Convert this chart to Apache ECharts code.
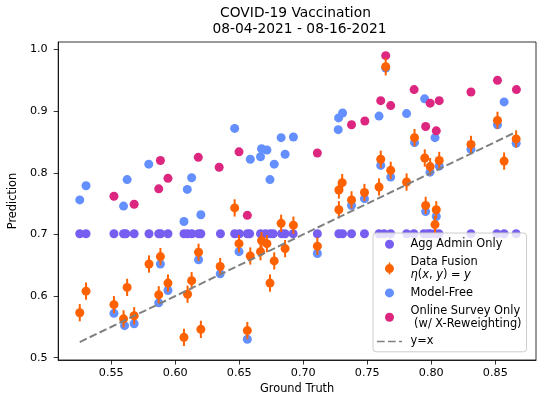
<!DOCTYPE html>
<html><head><meta charset="utf-8">
<script src="https://cdn.jsdelivr.net/npm/echarts@6/dist/echarts.min.js"></script>
<style>html,body{margin:0;padding:0;background:#fff}#c{width:537px;height:401px}</style>
</head><body><div id="c"></div>
<script>
// ---- data ----
const aggX = [0.5254,0.5303,0.5521,0.5596,0.5614,0.5679,0.5795,0.5871,0.5886,0.5943,0.6068,0.6096,0.6130,0.6182,0.6200,0.6353,0.6464,0.6501,0.6563,0.6581,0.6666,0.6705,0.6742,0.6765,0.6831,0.6858,0.6921,0.7110,0.7278,0.7307,0.7377,0.7478,0.7592,0.7631,0.7683,0.7807,0.7864,0.7942,0.7974,0.7994,0.8029,0.8060,0.8310,0.8512,0.8569,0.8663];
const aggY = [0.701,0.701,0.701,0.701,0.701,0.701,0.701,0.701,0.701,0.701,0.701,0.701,0.701,0.701,0.701,0.701,0.701,0.701,0.701,0.701,0.701,0.701,0.701,0.701,0.701,0.701,0.701,0.701,0.701,0.701,0.701,0.701,0.701,0.701,0.701,0.701,0.701,0.701,0.701,0.701,0.701,0.701,0.701,0.701,0.701,0.701];

const fusionX = [0.5254,0.5303,0.5521,0.5596,0.5624,0.5679,0.5795,0.5884,0.5871,0.5943,0.6068,0.6096,0.6128,0.6182,0.6200,0.6351,0.6464,0.6498,0.6586,0.6674,0.6716,0.6666,0.6827,0.6923,0.6858,0.6773,0.6740,0.7110,0.6563,0.7278,0.7278,0.7304,0.7377,0.7478,0.7592,0.7605,0.7644,0.7683,0.7807,0.7869,0.7949,0.7991,0.8062,0.7956,0.8039,0.8029,0.8310,0.8517,0.8569,0.8663];
const fusionY = [0.573,0.608,0.586,0.563,0.614,0.568,0.652,0.664,0.602,0.621,0.533,0.603,0.625,0.671,0.546,0.648,0.743,0.685,0.665,0.690,0.685,0.672,0.718,0.715,0.677,0.657,0.621,0.681,0.544,0.740,0.772,0.784,0.756,0.768,0.777,0.822,0.972,0.804,0.785,0.857,0.824,0.810,0.820,0.747,0.740,0.716,0.846,0.885,0.819,0.855];
const fusionErr = [0.014,0.014,0.014,0.014,0.014,0.014,0.014,0.014,0.014,0.014,0.014,0.014,0.014,0.014,0.014,0.014,0.014,0.014,0.014,0.014,0.014,0.014,0.014,0.014,0.014,0.014,0.014,0.014,0.014,0.014,0.014,0.014,0.014,0.014,0.014,0.014,0.014,0.014,0.014,0.014,0.014,0.014,0.014,0.014,0.014,0.014,0.014,0.014,0.014,0.014];

const modelFreeX = [0.5303,0.5254,0.5793,0.5624,0.6128,0.6094,0.5596,0.6068,0.6200,0.5521,0.5604,0.5679,0.5884,0.5871,0.5943,0.6182,0.6351,0.6464,0.6586,0.6674,0.6716,0.6666,0.6827,0.6923,0.6858,0.6773,0.6740,0.6498,0.7110,0.6563,0.7307,0.7276,0.7273,0.7377,0.7478,0.7592,0.7644,0.7605,0.7683,0.7807,0.7948,0.8029,0.7869,0.7990,0.8062,0.7956,0.8039,0.8310,0.8517,0.8569,0.8663];
const modelFreeY = [0.779,0.756,0.814,0.789,0.792,0.773,0.746,0.721,0.732,0.572,0.552,0.555,0.652,0.589,0.609,0.659,0.636,0.872,0.822,0.839,0.837,0.826,0.857,0.858,0.830,0.814,0.789,0.672,0.669,0.530,0.897,0.889,0.870,0.747,0.758,0.892,0.970,0.812,0.793,0.896,0.920,0.857,0.849,0.801,0.811,0.737,0.729,0.838,0.878,0.915,0.848];

const surveyX = [0.5884,0.6180,0.6343,0.5943,0.5871,0.5521,0.5679,0.6498,0.6563,0.7110,0.7377,0.7481,0.7644,0.7605,0.7683,0.7866,0.7991,0.8062,0.7956,0.8039,0.8310,0.8517,0.8665];
const surveyY = [0.820,0.825,0.809,0.791,0.774,0.762,0.749,0.834,0.731,0.832,0.878,0.884,0.990,0.917,0.909,0.935,0.913,0.917,0.875,0.868,0.931,0.950,0.935];

const xTicks = [0.55,0.60,0.65,0.70,0.75,0.80,0.85];
const xTickLabels = ['0.55','0.60','0.65','0.70','0.75','0.80','0.85'];
const yTicks = [0.5,0.6,0.7,0.8,0.9,1.0];
const yTickLabels = ['0.5','0.6','0.7','0.8','0.9','1.0'];

const seriesNames = ['Agg Admin Only','Data Fusion','Model-Free','Online Survey Only','y=x'];
const legendLabels = {
  'Agg Admin Only': 'Agg Admin Only',
  'Data Fusion': 'Data Fusion\n{it|η}({it|x}, {it|y}) = {it|y}',
  'Model-Free': 'Model-Free',
  'Online Survey Only': 'Online Survey Only\n (w/ X-Reweighting)',
  'y=x': 'y=x'
};
const titleLines = ['COVID-19 Vaccination', '08-04-2021 - 08-16-2021'];

// ---- build ----
const FONT = 'DejaVu Sans';
const C_AGG = '#785EF0', C_DF = '#FE6100', C_MF = '#648FFF', C_OS = '#DC267F', C_LINE = '#808080';
const zip = (xs, ys) => xs.map((x, i) => [x, ys[i]]);
const lo = Math.min(...aggX), hi = Math.max(...aggX);

const BOX = 'M0,0M32,16';
const ICON_CIRCLE = 'path://' + BOX + 'M11.5,8a4.5,4.5 0 1 1 9,0a4.5,4.5 0 1 1 -9,0z';
const ICON_ERR = 'path://' + BOX + 'M11.5,8a4.5,4.5 0 1 1 9,0a4.5,4.5 0 1 1 -9,0z M15.25,2h1.5v2.2h-1.5z M15.25,11.8h1.5v2.2h-1.5z';
const ICON_DASH = 'path://' + BOX + 'M3.5,7.2h7.7v1.6h-7.7z M14.5,7.2h7.7v1.6h-7.7z M25.5,7.2h3v1.6h-3z';

const chart = echarts.init(document.getElementById('c'), null, {renderer: 'canvas'});
chart.setOption({
  animation: false,
  backgroundColor: '#fff',
  textStyle: {fontFamily: FONT},
  graphic: [
    {type: 'text', x: 295.5, y: 13.3, silent: true,
     style: {text: titleLines[0], fill: '#000', fontFamily: FONT, fontSize: 13.8, align: 'center', verticalAlign: 'middle'}},
    {type: 'text', x: 299.5, y: 29.3, silent: true,
     style: {text: titleLines[1], fill: '#000', fontFamily: FONT, fontSize: 13.8, align: 'center', verticalAlign: 'middle'}}
  ],
  grid: {left: 56, right: 1, top: 42, bottom: 41, show: true, borderColor: '#000', borderWidth: 0.8},
  xAxis: {
    type: 'value', min: 0.50855, max: 0.8818,
    name: 'Ground Truth', nameLocation: 'middle', nameGap: 22.5,
    nameTextStyle: {fontSize: 11.4, color: '#000', fontFamily: FONT},
    axisLine: {show: true, lineStyle: {color: '#000', width: 0.8}},
    axisTick: {show: true, length: 4.5, lineStyle: {color: '#000', width: 0.8}, customValues: xTicks},
    axisLabel: {customValues: xTicks, fontSize: 11.2, color: '#000', margin: 8, fontFamily: FONT,
      formatter: v => xTickLabels[xTicks.findIndex(t => Math.abs(t - v) < 1e-9)]},
    splitLine: {show: false}
  },
  yAxis: {
    type: 'value', min: 0.49627, max: 1.01217,
    name: 'Prediction', nameLocation: 'middle', nameGap: 28,
    nameTextStyle: {fontSize: 11.4, color: '#000', fontFamily: FONT},
    axisLine: {show: true, lineStyle: {color: '#000', width: 0.8}},
    axisTick: {show: true, length: 4.5, lineStyle: {color: '#000', width: 0.8}, customValues: yTicks},
    axisLabel: {customValues: yTicks, fontSize: 11.2, color: '#000', margin: 10.5, fontFamily: FONT,
      formatter: v => yTickLabels[yTicks.findIndex(t => Math.abs(t - v) < 1e-9)]},
    splitLine: {show: false}
  },
  legend: {
    orient: 'vertical', left: 373, top: 233,
    padding: [3.3, 5, 2.3, 0.5], itemGap: 3, itemWidth: 32, itemHeight: 16,
    symbolKeepAspect: true, selectedMode: false,
    backgroundColor: 'rgba(255,255,255,0.8)', borderColor: '#cccccc', borderWidth: 1, borderRadius: 3,
    itemStyle: {borderWidth: 0, opacity: 1},
    textStyle: {fontFamily: FONT, fontSize: 11.4, color: '#000', lineHeight: 13.3,
      rich: {it: {fontFamily: FONT, fontStyle: 'italic', fontSize: 11.4, lineHeight: 13.3, color: '#000'}}},
    formatter: name => legendLabels[name],
    data: [
      {name: seriesNames[0], icon: ICON_CIRCLE},
      {name: seriesNames[1], icon: ICON_ERR},
      {name: seriesNames[2], icon: ICON_CIRCLE},
      {name: seriesNames[3], icon: ICON_CIRCLE},
      {name: seriesNames[4], icon: ICON_DASH}
    ]
  },
  series: [
    {name: seriesNames[0], type: 'scatter', data: zip(aggX, aggY), symbolSize: 9, color: C_AGG, itemStyle: {color: C_AGG, opacity: 1}, silent: true, z: 2},
    {name: seriesNames[2], type: 'scatter', data: zip(modelFreeX, modelFreeY), symbolSize: 9, color: C_MF, itemStyle: {color: C_MF, opacity: 1}, silent: true, z: 2},
    {name: seriesNames[3], type: 'scatter', data: zip(surveyX, surveyY), symbolSize: 9, color: C_OS, itemStyle: {color: C_OS, opacity: 1}, silent: true, z: 2},
    {name: 'errbars', type: 'custom', silent: true, z: 3,
     data: fusionX.map((x, i) => [x, fusionY[i], fusionErr[i]]),
     encode: {x: 0, y: 1},
     renderItem: (params, api) => {
       const x = api.value(0), y = api.value(1), e = api.value(2);
       const p1 = api.coord([x, y - e]), p2 = api.coord([x, y + e]);
       return {type: 'line', shape: {x1: p1[0], y1: p1[1], x2: p2[0], y2: p2[1]}, style: {stroke: C_DF, lineWidth: 2}};
     }},
    {name: seriesNames[1], type: 'scatter', data: zip(fusionX, fusionY), symbolSize: 9, color: C_DF, itemStyle: {color: C_DF, opacity: 1}, silent: true, z: 3},
    {name: seriesNames[4], type: 'line', data: [[lo, lo], [hi, hi]], showSymbol: false, symbol: 'none', color: C_LINE,
     itemStyle: {color: C_LINE}, lineStyle: {color: C_LINE, width: 2, type: [7.7, 3.3]}, silent: true, z: 4}
  ]
});
</script>
</body></html>
